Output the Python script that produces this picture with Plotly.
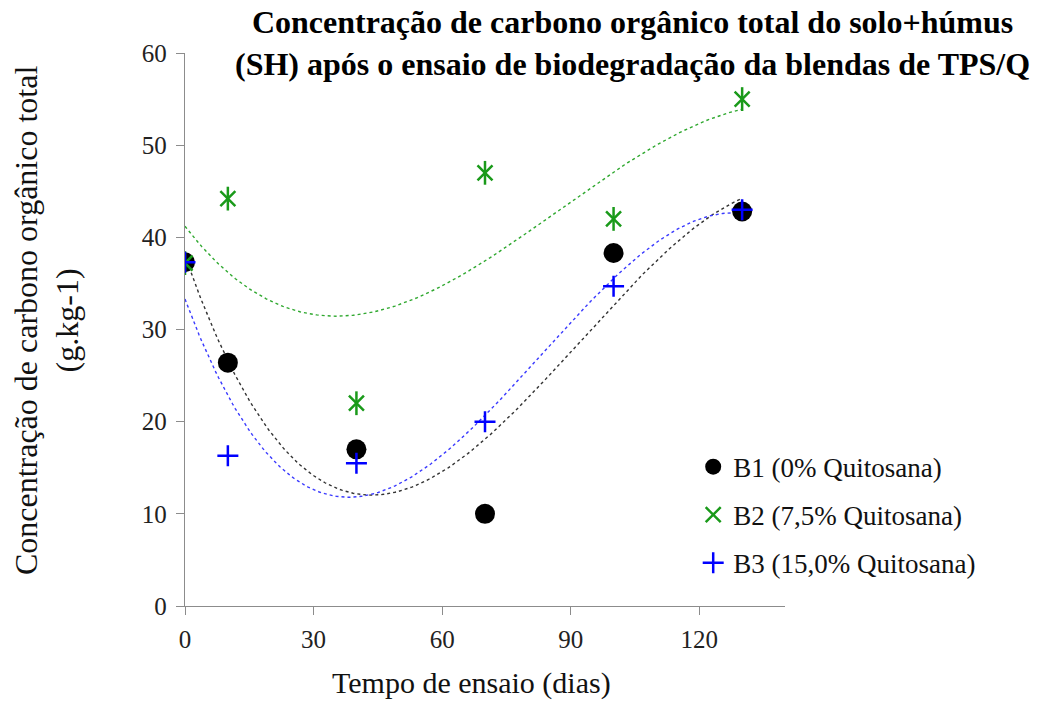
import numpy as np
import plotly.graph_objects as go

days = [0, 10, 40, 70, 100, 130]
b1 = [37.3, 26.4, 17.0, 10.0, 38.3, 42.8]
b2 = [37.2, 44.2, 22.0, 47.0, 42.0, 55.0]
b3 = [37.3, 16.3, 15.5, 20.0, 34.7, 43.0]
names = ["B1 (0% Quitosana)", "B2 (7,5% Quitosana)", "B3 (15,0% Quitosana)"]
colors = ["#000000", "#1a9a1a", "#0000ff"]
trend_colors = ["#333333", "#2fa82f", "#3a3aff"]
x_ticks = [0, 30, 60, 90, 120]
y_ticks = [0, 10, 20, 30, 40, 50, 60]
title_text = ("<b>Concentração de carbono orgânico total do solo+húmus<br>"
              "(SH) após o ensaio de biodegradação da blendas de TPS/Q</b>")
x_title = "Tempo de ensaio (dias)"
y_title = "Concentração de carbono orgânico total<br>(g.kg-1)"

FONT = "Liberation Serif"
fig = go.Figure()

xs = np.linspace(min(days), max(days), 200)
for ys, tc in zip([b1, b2, b3], trend_colors):
    c = np.polyfit(days, ys, 3)
    fig.add_trace(go.Scatter(x=xs, y=np.polyval(c, xs), mode="lines",
                             line=dict(color=tc, width=1.4, dash="dot"),
                             showlegend=False, hoverinfo="skip"))

fig.add_trace(go.Scatter(x=days, y=b1, mode="markers", name=names[0], legendgroup="g1",
                         marker=dict(symbol="circle", size=20, color=colors[0])))
fig.add_trace(go.Scatter(x=days, y=b2, mode="markers", name=names[1], legendgroup="g2",
                         marker=dict(symbol="x-thin-open", size=15, color=colors[1],
                                     line=dict(color=colors[1], width=2.5))))
fig.add_trace(go.Scatter(x=days, y=b2, mode="markers", legendgroup="g2", showlegend=False,
                         marker=dict(symbol="line-ns-open", size=17, color=colors[1],
                                     line=dict(color=colors[1], width=2.5))))
fig.add_trace(go.Scatter(x=days, y=b3, mode="markers", name=names[2], legendgroup="g3",
                         marker=dict(symbol="cross-thin-open", size=15, color=colors[2],
                                     line=dict(color=colors[2], width=2.5))))

axis_common = dict(showgrid=False, zeroline=False, showline=True, linecolor="#8c8c8c",
                   linewidth=1.3, ticks="outside", ticklen=8, tickcolor="#8c8c8c",
                   automargin=False,
                   tickfont=dict(family=FONT, size=25, color="#222222"))

fig.update_layout(
    width=1050, height=702,
    paper_bgcolor="white", plot_bgcolor="white",
    margin=dict(l=185, r=265, t=53, b=96),
    xaxis=dict(range=[0, 140], tickvals=x_ticks, ticklabelstandoff=3, **axis_common),
    yaxis=dict(range=[0, 60], tickvals=y_ticks, ticklabelstandoff=4, **axis_common),
    legend=dict(x=0.847, y=0.2955, xanchor="left", yanchor="top", bgcolor="rgba(0,0,0,0)",
                font=dict(family=FONT, size=27, color="#111111"), traceorder="grouped",
                tracegroupgap=10, itemwidth=30),
    showlegend=True,
    annotations=[
        dict(text=title_text, xref="paper", yref="paper", x=0.745, y=1.093,
             xanchor="center", yanchor="top", showarrow=False,
             font=dict(family=FONT, size=32, color="#000000")),
        dict(text=x_title, xref="paper", yref="paper", x=0.478, y=-0.139,
             xanchor="center", yanchor="middle", showarrow=False,
             font=dict(family=FONT, size=30, color="#111111")),
        dict(text=y_title, xref="paper", yref="paper", x=-0.230, y=0.517,
             xanchor="center", yanchor="middle", showarrow=False, textangle=-90,
             font=dict(family=FONT, size=32, color="#111111")),
    ],
)

fig.write_html("out.html", config={"displayModeBar": False},
               post_script="document.body.style.margin='0';document.body.style.overflow='hidden';")
